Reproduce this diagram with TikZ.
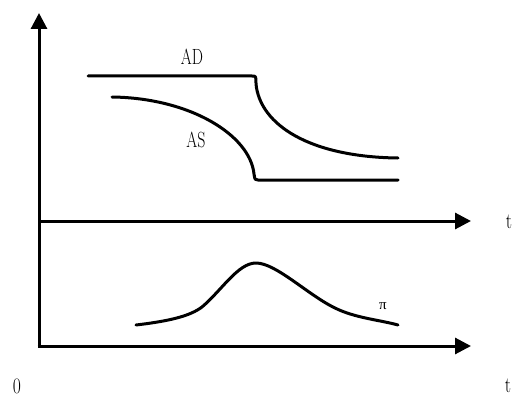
\documentclass[tikz,border=0pt]{standalone}
\usepackage{fontspec}
\usepackage{graphicx}
\newfontfamily\gkfont{Liberation Serif}
\usetikzlibrary{arrows.meta}
\begin{document}
\begin{tikzpicture}[x=1pt,y=-1pt,
  curve/.style={line width=3pt,line cap=round,line join=round},
  axis/.style={line width=3pt,-{Triangle[length=16pt,width=16pt]}},
  lbl/.style={inner sep=0pt,font=\fontsize{22}{26}\selectfont}]
\useasboundingbox (0,0) rectangle (514,396);
% axes
\coordinate (O) at (39,346);
\coordinate (ytop) at (39,13);
\coordinate (mid) at (39,221);
\coordinate (midend) at (471,221);
\coordinate (botend) at (471,346);
\coordinate (Ol) at (37.5,346);
\draw[axis] (O) -- (ytop);
\draw[axis] (mid) -- (midend);
\draw[axis] (Ol) -- (botend);
% AD
\draw[curve] (88,76) coordinate (ad0) -- (252,76)
  .. controls (256,76) .. (256,84)
  .. controls (260,125) and (310,157) .. (398,158) coordinate (ad1);
% AS
\draw[curve] (112,97) coordinate (as0)
  .. controls (190,98) and (250,135) .. (254,174)
  .. controls (255,180) .. (258,180) -- (398,180) coordinate (as1);
% pi curve
\draw[curve] (136,325) coordinate (p0)
  .. controls (170,321) and (190,316) .. (202,307)
  .. controls (222,290) and (238,263) .. (256,263)
  .. controls (276,263) and (308,295) .. (335,308)
  .. controls (355,318) and (380,320) .. (398,325) coordinate (p1);
% labels
\node[lbl] (lad) at (192,57) {\scalebox{0.72}[1]{AD}};
\node[lbl] (las) at (196,140) {\scalebox{0.72}[1]{AS}};
\node[lbl] (lt1) at (509,222) {\scalebox{0.8}[1]{t}};
\node[lbl] (lt2) at (508,386) {\scalebox{0.8}[1]{t}};
\node[lbl] (l0) at (17,386) {\scalebox{0.8}[1]{0}};
\node[inner sep=0pt,font=\gkfont\fontsize{15}{17}\selectfont] (lpi) at (383,306) {π};
\end{tikzpicture}
\end{document}
